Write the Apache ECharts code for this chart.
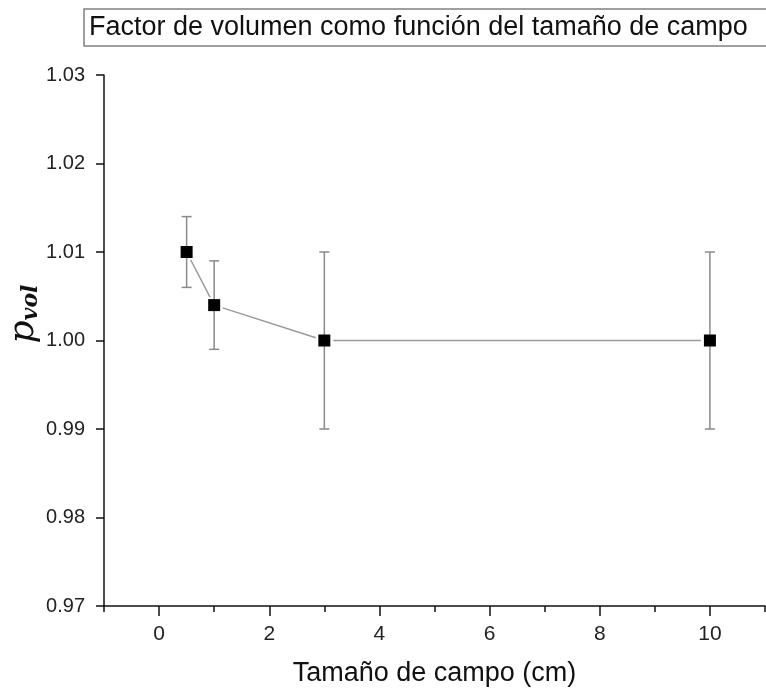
<!DOCTYPE html>
<html>
<head>
<meta charset="utf-8">
<script src="https://cdn.jsdelivr.net/npm/echarts@6/dist/echarts.min.js"></script>
<style>
html,body{margin:0;padding:0;background:#fff;}
#chart{width:766px;height:692px;}
</style>
</head>
<body>
<div id="chart"></div>
<script>
// ---- data ----
var chartTitle = 'Factor de volumen como función del tamaño de campo';
var xAxisTitle = 'Tamaño de campo (cm)';
var fieldSize = [0.5, 1, 3, 10];
var pVol = [1.010, 1.004, 1.000, 1.000];
var pVolErr = [0.004, 0.005, 0.010, 0.010];
var xMajorTicks = [0, 2, 4, 6, 8, 10];
var xMinorTicks = [-1, 1, 3, 5, 7, 9, 11];
var yTicks = [0.97, 0.98, 0.99, 1.00, 1.01, 1.02, 1.03];

// ---- build series data ----
var points = fieldSize.map(function (x, i) { return [x, pVol[i]]; });
var errData = fieldSize.map(function (x, i) { return [x, pVol[i] - pVolErr[i], pVol[i] + pVolErr[i]]; });
var segData = [];
for (var i = 0; i < fieldSize.length - 1; i++) {
  segData.push([fieldSize[i], pVol[i], fieldSize[i + 1], pVol[i + 1]]);
}

var chart = echarts.init(document.getElementById('chart'));
var font = 'Liberation Sans, Arial, sans-serif';

var option = {
  backgroundColor: '#fff',
  animation: false,
  title: {
    text: chartTitle,
    left: 84,
    top: 9,
    padding: [5, 30, 5, 5],
    borderColor: '#808080',
    borderWidth: 1.5,
    textStyle: { fontFamily: font, fontSize: 27, fontWeight: 'normal', color: '#111' }
  },
  grid: { left: 104, right: 1, top: 75, bottom: 83, containLabel: false },
  xAxis: [{
    type: 'value', min: -1, max: 11,
    axisLine: { show: true, onZero: false, lineStyle: { color: '#111', width: 1.5 } },
    axisTick: { show: true, inside: false, length: 10, customValues: xMajorTicks, lineStyle: { color: '#111', width: 1.5 } },
    axisLabel: { customValues: xMajorTicks, margin: 18, fontFamily: font, fontSize: 21, color: '#222' },
    splitLine: { show: false },
    name: xAxisTitle, nameLocation: 'middle', nameGap: 54,
    nameTextStyle: { fontFamily: font, fontSize: 27, color: '#111' }
  }, {
    type: 'value', min: -1, max: 11, position: 'bottom',
    axisLine: { show: false, onZero: false },
    axisTick: { show: true, length: 6, customValues: xMinorTicks, lineStyle: { color: '#111', width: 1.5 } },
    axisLabel: { show: false },
    splitLine: { show: false }
  }],
  yAxis: {
    type: 'value', min: 0.97, max: 1.03,
    axisLine: { show: true, onZero: false, lineStyle: { color: '#111', width: 1.5 } },
    axisTick: { show: true, length: 8, customValues: yTicks, lineStyle: { color: '#111', width: 1.5 } },
    axisLabel: { customValues: yTicks, margin: 19, fontFamily: font, fontSize: 20, color: '#222',
      formatter: function (v) { return v.toFixed(2); } },
    splitLine: { show: false }
  },
  graphic: [{
    type: 'text',
    x: 24, y: 314,
    rotation: Math.PI / 2,
    style: {
      text: '{p|p}{s|vol}',
      align: 'center', verticalAlign: 'middle',
      rich: {
        p: { fontFamily: 'DejaVu Serif, serif', fontStyle: 'italic', fontSize: 36, fill: '#111' },
        s: { fontFamily: 'DejaVu Serif, serif', fontStyle: 'italic', fontWeight: 'bold', fontSize: 22, fill: '#111', padding: [14, 0, 0, 0] }
      }
    }
  }],
  series: [{
    type: 'custom',
    name: 'line',
    data: segData,
    z: 2,
    renderItem: function (params, api) {
      var a = api.coord([api.value(0), api.value(1)]);
      var b = api.coord([api.value(2), api.value(3)]);
      var dx = b[0] - a[0], dy = b[1] - a[1];
      var len = Math.sqrt(dx * dx + dy * dy);
      var gap = 9;
      var ux = dx / len, uy = dy / len;
      return {
        type: 'line',
        shape: { x1: a[0] + ux * gap, y1: a[1] + uy * gap, x2: b[0] - ux * gap, y2: b[1] - uy * gap },
        style: { stroke: '#9a9a9a', lineWidth: 1.5 }
      };
    }
  }, {
    type: 'custom',
    name: 'error',
    data: errData,
    z: 3,
    renderItem: function (params, api) {
      var lo = api.coord([api.value(0), api.value(1)]);
      var hi = api.coord([api.value(0), api.value(2)]);
      var w = 5;
      var st = { stroke: '#8a8a8a', lineWidth: 1.5 };
      return {
        type: 'group',
        children: [
          { type: 'line', shape: { x1: lo[0], y1: lo[1], x2: hi[0], y2: hi[1] }, style: st },
          { type: 'line', shape: { x1: lo[0] - w, y1: lo[1], x2: lo[0] + w, y2: lo[1] }, style: st },
          { type: 'line', shape: { x1: hi[0] - w, y1: hi[1], x2: hi[0] + w, y2: hi[1] }, style: st }
        ]
      };
    }
  }, {
    type: 'scatter',
    name: 'pvol',
    data: points,
    symbol: 'rect',
    symbolSize: 12,
    z: 4,
    itemStyle: { color: '#000', opacity: 1 }
  }]
};
chart.setOption(option);
</script>
</body>
</html>
